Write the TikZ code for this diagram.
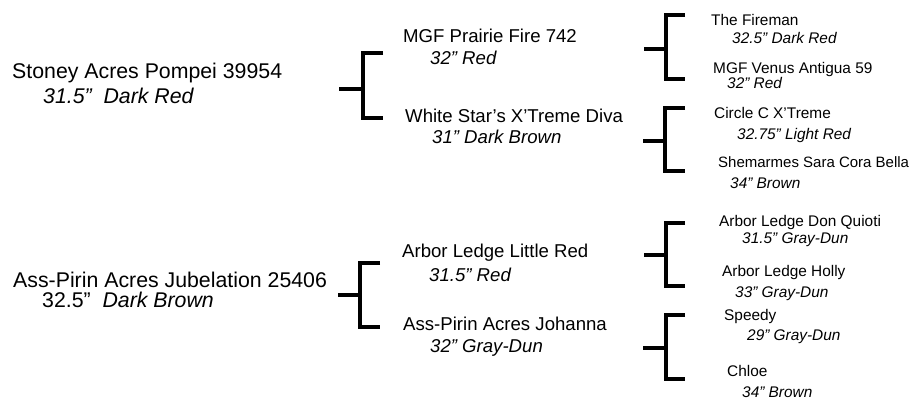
\documentclass[tikz,border=0pt]{standalone}
\usepackage{fontspec}
\setmainfont{Liberation Sans}

\begin{document}
\begin{tikzpicture}[
    x=1pt,y=-1pt,
    horse/.style={anchor=base west,inner sep=0pt,font=\fontsize{#1}{#1}\selectfont},
    info/.style={anchor=base west,inner sep=0pt,font=\fontsize{#1}{#1}\selectfont\itshape},
    brk/.style={line width=3.8pt,line join=miter}
]
\useasboundingbox (0,0) rectangle (921,399);

% first generation
\node[horse=21.3] (s) at (12,78) {Stoney Acres Pompei 39954};
\node[info=21.3] (s-c) at (43,103) {31.5” \ Dark Red};
\node[horse=21.3] (d) at (13,287) {Ass-Pirin Acres Jubelation 25406};
\node[horse=21.3] (d-c) at (42,307) {32.5” \ \textit{Dark Brown}};

% second generation
\node[horse=18.6] (ss) at (403,42) {MGF Prairie Fire 742};
\node[info=18.6] (ss-c) at (430,64) {32” Red};
\node[horse=18.6] (sd) at (405,122) {White Star's X'Treme Diva};
\node[info=18.6] (sd-c) at (432,143) {31” Dark Brown};
\node[horse=18.6] (ds) at (402,257) {Arbor Ledge Little Red};
\node[info=18.6] (ds-c) at (429,281) {31.5” Red};
\node[horse=18.6] (dd) at (403,330) {Ass-Pirin Acres Johanna};
\node[info=18.6] (dd-c) at (430,352) {32” Gray-Dun};

% third generation
\node[horse=15.4] (sss) at (711,25) {The Fireman};
\node[info=15.4] (sss-c) at (732,43) {32.5” Dark Red};
\node[horse=15.4] (ssd) at (713,73) {MGF Venus Antigua 59};
\node[info=15.4] (ssd-c) at (727,88) {32” Red};
\node[horse=15.4] (sds) at (714,118) {Circle C X'Treme};
\node[info=15.4] (sds-c) at (737,139) {32.75” Light Red};
\node[horse=15] (sdd) at (718,167) {Shemarmes Sara Cora Bella};
\node[info=15.4] (sdd-c) at (730,188) {34” Brown};
\node[horse=15.4] (dss) at (719,226) {Arbor Ledge Don Quioti};
\node[info=15.4] (dss-c) at (742,243) {31.5” Gray-Dun};
\node[horse=15.4] (dsd) at (722,276) {Arbor Ledge Holly};
\node[info=15.4] (dsd-c) at (735,297) {33” Gray-Dun};
\node[horse=15.4] (dds) at (724,320) {Speedy};
\node[info=15.4] (dds-c) at (747,340) {29” Gray-Dun};
\node[horse=15.4] (ddd) at (727,376) {Chloe};
\node[info=15.4] (ddd-c) at (742,397) {34” Brown};

% brackets
\coordinate (s-in) at (339,89);  \coordinate (s-j) at (363,89);
\coordinate (s-up) at (383,53);  \coordinate (s-dn) at (383,118);
\coordinate (d-in) at (338,295); \coordinate (d-j) at (360,295);
\coordinate (d-up) at (380,263); \coordinate (d-dn) at (380,327);
\coordinate (ss-in) at (644,49); \coordinate (ss-j) at (666,49);
\coordinate (ss-up) at (685,15); \coordinate (ss-dn) at (685,79);
\coordinate (sd-in) at (643,141); \coordinate (sd-j) at (665,141);
\coordinate (sd-up) at (685,108); \coordinate (sd-dn) at (685,171);
\coordinate (ds-in) at (644,255); \coordinate (ds-j) at (666,255);
\coordinate (ds-up) at (685,223); \coordinate (ds-dn) at (685,286);
\coordinate (dd-in) at (643,348); \coordinate (dd-j) at (666,348);
\coordinate (dd-up) at (685,315); \coordinate (dd-dn) at (685,379);

\foreach \b in {s,d,ss,sd,ds,dd} {
  \draw[brk] (\b-in) -- (\b-j);
  \draw[brk] (\b-up) -| (\b-j) |- (\b-dn);
}
\end{tikzpicture}
\end{document}
